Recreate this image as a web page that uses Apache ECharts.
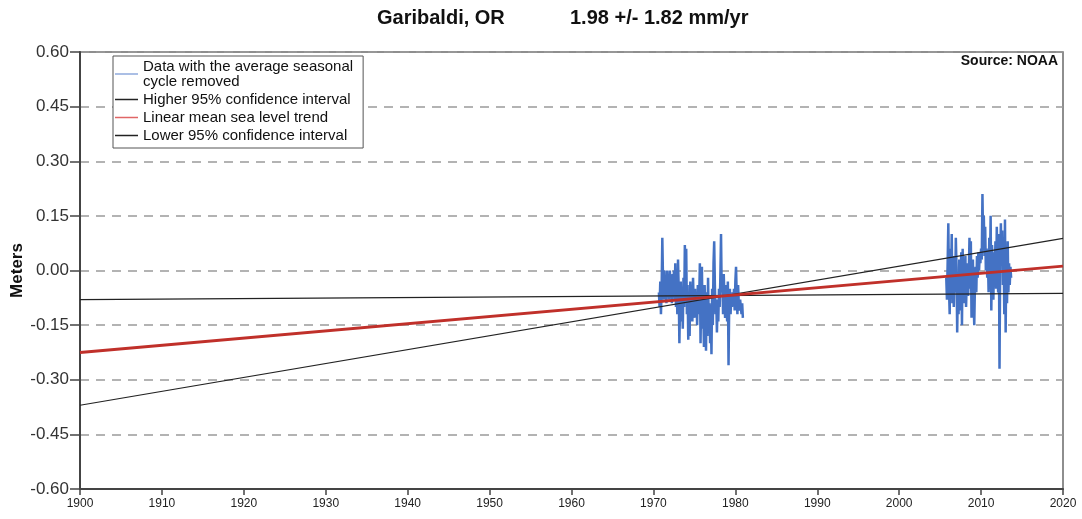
<!DOCTYPE html>
<html><head><meta charset="utf-8">
<script src="https://cdn.jsdelivr.net/npm/echarts@6/dist/echarts.min.js"></script>
<style>html,body{margin:0;padding:0;background:#fff}#c{width:1082px;height:519px}</style>
</head><body><div id="c"></div>
<script>
const titleLeft = 'Garibaldi, OR';
const titleRight = '1.98 +/- 1.82 mm/yr';
const sourceText = 'Source: NOAA';
const yAxisName = 'Meters';
const seriesNames = ['Data with the average seasonal\ncycle removed','Higher 95% confidence interval','Linear mean sea level trend','Lower 95% confidence interval'];
const trendYears = [1900, 2020];
const trendValues = [-0.225, 0.012];
const higherValues = [-0.37, 0.088];
const lowerValues = [-0.08, -0.063];
const monthStep = 1/12;
const start1 = 1970.67;
const values1 = [
 -0.06,-0.10,-0.03,-0.12,-0.05,0.09,-0.02,-0.08,0.00,-0.07,
 -0.04,-0.09,0.00,-0.06,-0.02,-0.08,0.00,-0.05,-0.03,-0.09,
 -0.01,-0.06,0.00,-0.08,0.02,-0.10,-0.04,-0.12,0.03,-0.05,
 -0.20,-0.08,-0.03,-0.14,-0.06,-0.16,-0.02,-0.10,0.07,-0.05,
 0.06,-0.12,-0.04,-0.19,-0.08,-0.18,-0.03,-0.11,-0.06,-0.14,
 -0.02,-0.09,-0.13,-0.05,-0.11,-0.07,-0.15,-0.04,-0.12,-0.08,
 0.02,-0.20,-0.06,0.01,-0.16,-0.10,-0.21,-0.04,-0.13,-0.22,
 -0.06,-0.18,-0.02,-0.14,-0.09,-0.20,-0.11,-0.23,-0.05,-0.15,
 0.02,0.08,-0.04,-0.12,-0.08,-0.17,-0.09,-0.14,-0.05,-0.10,
 -0.02,0.10,-0.06,-0.03,-0.12,-0.01,-0.08,-0.13,-0.04,-0.10,
 -0.14,-0.03,-0.26,-0.09,-0.05,-0.12,-0.07,-0.10,-0.06,-0.09,
 -0.05,-0.11,-0.03,0.01,-0.07,-0.12,-0.04,-0.09,-0.11,-0.08,
 -0.10,-0.12,-0.09,-0.13
];
const start2 = 2005.75;
const values2 = [
 -0.02,-0.08,0.02,0.13,-0.05,-0.12,0.06,-0.03,0.10,-0.09,
 0.04,-0.10,0.00,-0.06,0.09,0.01,-0.17,-0.04,-0.12,0.03,
 -0.11,-0.02,0.05,-0.15,0.06,-0.05,0.00,-0.09,0.04,-0.10,
 -0.03,0.02,-0.07,-0.01,0.09,-0.05,0.08,-0.13,-0.02,0.03,
 -0.08,-0.15,-0.04,0.01,-0.06,0.04,-0.02,0.05,0.00,0.04,
 0.02,0.06,0.03,0.21,0.08,0.15,0.04,0.12,0.00,0.06,
 -0.02,0.04,-0.06,0.09,0.01,0.15,-0.11,0.07,0.02,-0.08,
 0.05,-0.03,0.08,-0.05,0.12,0.02,-0.06,0.10,-0.27,0.03,
 0.13,0.02,0.11,-0.04,0.06,-0.12,0.14,-0.17,0.05,-0.09,
 0.08,-0.06,0.02,-0.04,0.01,-0.02
];

const pts = [];
values1.forEach((v,i)=>pts.push([start1 + i*monthStep, v]));
pts.push([1990, null]);
values2.forEach((v,i)=>pts.push([start2 + i*monthStep, v]));
const pair = (vals)=>trendYears.map((y,i)=>[y, vals[i]]);

const font = 'Arial, "Liberation Sans", sans-serif';
const chart = echarts.init(document.getElementById('c'), null, {renderer:'canvas'});
chart.setOption({
  animation:false,
  backgroundColor:'#fff',
  grid:{left:80,right:19,top:52,bottom:30,containLabel:false,outerBoundsMode:'none',show:true,borderColor:'#6a6a6a',borderWidth:1.5,backgroundColor:'transparent'},
  legend:{
    orient:'vertical',left:113,top:56,
    padding:[3,10,5,2],itemGap:3,itemWidth:23,itemHeight:1.5,
    borderColor:'#555',borderWidth:1,backgroundColor:'#fff',borderRadius:0,
    textStyle:{fontFamily:font,fontSize:15,color:'#111',lineHeight:15},
    data:[
      {name:seriesNames[0],icon:'rect',itemStyle:{color:'#8faadc'}},
      {name:seriesNames[1],icon:'rect',itemStyle:{color:'#222'}},
      {name:seriesNames[2],icon:'rect',itemStyle:{color:'#e06666'}},
      {name:seriesNames[3],icon:'rect',itemStyle:{color:'#222'}}
    ]
  },
  graphic:[
    {type:'text',left:377,top:8,style:{text:titleLeft,font:'bold 20px '+font,fill:'#111'}},
    {type:'text',left:570,top:8,style:{text:titleRight,font:'bold 20px '+font,fill:'#111'}},
    {type:'text',right:24,top:54,style:{text:sourceText,font:'bold 14px '+font,fill:'#111'}}
  ],
  xAxis:{type:'value',min:1900,max:2020,interval:10,
    axisLine:{onZero:false,lineStyle:{color:'#444',width:2}},
    axisTick:{length:6,lineStyle:{color:'#444',width:1.5}},
    axisLabel:{fontFamily:font,fontSize:12,color:'#222',margin:9,formatter:v=>String(v)},
    splitLine:{show:false}},
  yAxis:{type:'value',min:-0.6,max:0.6,interval:0.15,
    name:yAxisName,nameLocation:'middle',nameRotate:90,nameGap:54,nameMoveOverlap:false,
    nameTextStyle:{fontFamily:font,fontSize:17,fontWeight:'bold',color:'#111'},
    axisLine:{show:true,onZero:false,lineStyle:{color:'#444',width:2}},
    axisTick:{show:true,length:10,lineStyle:{color:'#444',width:1.5}},
    axisLabel:{fontFamily:font,fontSize:17,color:'#333',margin:11,formatter:v=>v.toFixed(2)},
    splitLine:{show:true,lineStyle:{color:'#9a9a9a',width:1.5,type:[9,7]}}},
  series:[
    {name:seriesNames[0],type:'line',data:pts,showSymbol:false,connectNulls:false,z:2,
      lineStyle:{color:'#4472c4',width:2.5},itemStyle:{color:'#4472c4'}},
    {name:seriesNames[1],type:'line',data:pair(higherValues),showSymbol:false,z:3,
      lineStyle:{color:'#222',width:1.2},itemStyle:{color:'#222'}},
    {name:seriesNames[2],type:'line',data:pair(trendValues),showSymbol:false,z:4,
      lineStyle:{color:'#c0302a',width:3},itemStyle:{color:'#c0302a'}},
    {name:seriesNames[3],type:'line',data:pair(lowerValues),showSymbol:false,z:3,
      lineStyle:{color:'#222',width:1.2},itemStyle:{color:'#222'}}
  ]
});
</script></body></html>
